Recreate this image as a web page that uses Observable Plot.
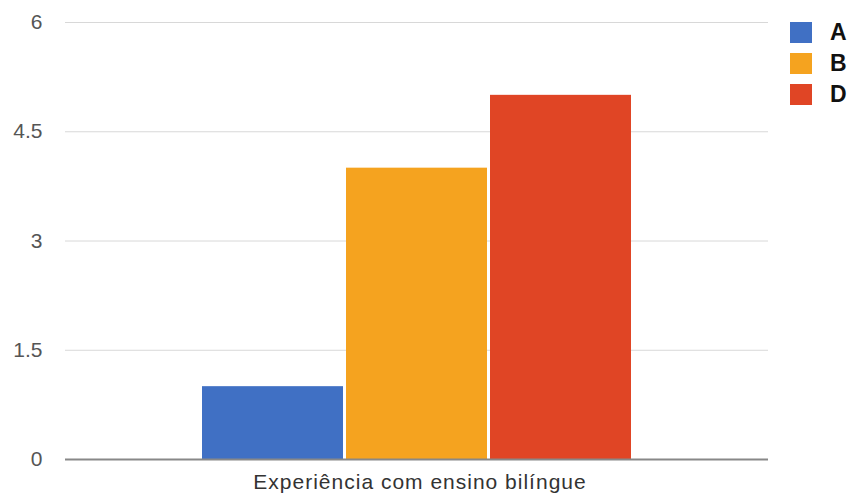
<!DOCTYPE html>
<html>
<head>
<meta charset="utf-8">
<script src="https://cdn.jsdelivr.net/npm/d3@7"></script>
<script src="https://cdn.jsdelivr.net/npm/@observablehq/plot@0.6"></script>
<style>
  html, body { margin: 0; padding: 0; background: #fff; }
  #wrap { position: relative; width: 855px; height: 494px; font-family: "Liberation Sans", Arial, sans-serif; }
  .legend { position: absolute; left: 790px; top: 22px; }
  .item { display: flex; align-items: center; height: 21px; margin-bottom: 10px; }
  .sw { width: 22px; height: 21px; margin-right: 18px; }
  .lb { font-weight: bold; font-size: 23px; color: #111; line-height: 21px; }
</style>
</head>
<body>
<div id="wrap"></div>
<script>
const series = ["A", "B", "D"];
const values = [1, 4, 5];
const colors = ["#4070c4", "#f5a31f", "#e04525"];
const yTicks = [0, 1.5, 3, 4.5, 6];
const categoryLabel = "Experiência com ensino bilíngue";

const data = series.map((s, i) => ({series: s, value: values[i]}));

const chart = Plot.plot({
  width: 855,
  height: 494,
  marginLeft: 65,
  marginRight: 87,
  marginTop: 22,
  marginBottom: 35,
  style: {fontFamily: "Liberation Sans, Arial, sans-serif", background: "#fff"},
  x: {domain: series, range: [201, 633], padding: 0.02, paddingOuter: 0, axis: null},
  y: {domain: [0, 6], axis: null},
  color: {domain: series, range: colors},
  marks: [
    Plot.ruleY(yTicks.filter(d => d !== 0), {stroke: "#d8d8d8", strokeWidth: 1}),
    Plot.barY(data, {x: "series", y: "value", fill: "series"}),
    Plot.ruleY([0], {stroke: "#888", strokeWidth: 2}),
    Plot.axisY({ticks: yTicks, tickSize: 0, tickPadding: 23, fontSize: 21, color: "#555", label: null, tickFormat: d => String(d)}),
    Plot.text([categoryLabel], {frameAnchor: "bottom", dy: 29, dx: 3, fontSize: 21, fill: "#333"})
  ]
});

chart.querySelectorAll("text").forEach(t => {
  if (t.textContent === categoryLabel) t.setAttribute("letter-spacing", "1");
});

const wrap = document.getElementById("wrap");
wrap.appendChild(chart);
const legend = document.createElement("div");
legend.className = "legend";
series.forEach((s, i) => {
  const item = document.createElement("div");
  item.className = "item";
  item.innerHTML = `<div class="sw" style="background:${colors[i]}"></div><span class="lb">${s}</span>`;
  legend.appendChild(item);
});
wrap.appendChild(legend);
</script>
</body>
</html>
